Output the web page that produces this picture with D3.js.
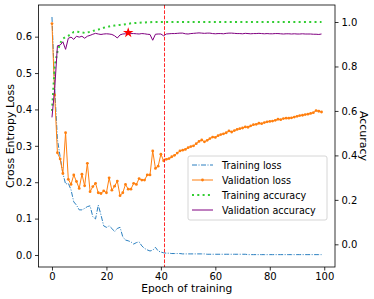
<!DOCTYPE html>
<meta charset="utf-8">
<style>
body{margin:0;background:#fff;}
text{font-family:"DejaVu Sans",sans-serif;fill:#000;}
.axis path{display:none;}
.axis line{stroke:#000;stroke-width:0.8px;}
.axis text{font-size:10px;}
</style>
<body>
<script src="https://d3js.org/d3.v7.min.js"></script>
<script>

var trainLoss=[0.654,0.46,0.318,0.27,0.224,0.195,0.197,0.179,0.146,0.137,
0.124,0.124,0.128,0.133,0.135,0.105,0.099,0.137,0.110,0.080,
0.076,0.080,0.073,0.064,0.073,0.076,0.050,0.041,0.039,0.036,
0.030,0.034,0.036,0.025,0.018,0.014,0.011,0.013,0.021,0.011,
0.008,0.006,0.005,0.005,0.004,0.004,0.004,0.004,0.003,0.003,
0.003,0.003,0.003,0.003,0.003,0.003,0.003,0.002,0.002,0.002,
0.002,0.002,0.002,0.002,0.002,0.002,0.002,0.002,0.002,0.002,
0.002,0.002,0.001,0.001,0.001,0.001,0.001,0.001,0.001,0.001,
0.001,0.001,0.001,0.001,0.001,0.001,0.001,0.001,0.001,0.001,
0.001,0.001,0.001,0.001,0.001,0.001,0.001,0.001,0.001,0.001];

var valLoss=[0.636,0.44,0.281,0.264,0.224,0.336,0.208,0.194,0.22,0.202,
0.183,0.222,0.19,0.252,0.174,0.188,0.197,0.171,0.169,0.176,
0.171,0.212,0.178,0.189,0.203,0.163,0.171,0.194,0.181,0.181,
0.197,0.194,0.21,0.206,0.206,0.22,0.22,0.286,0.238,0.244,
0.277,0.259,0.263,0.265,0.27,0.274,0.28,0.286,0.288,0.29,
0.295,0.298,0.300,0.306,0.312,0.316,0.311,0.315,0.320,0.324,
0.323,0.328,0.331,0.333,0.336,0.341,0.338,0.342,0.345,0.347,
0.349,0.352,0.351,0.355,0.358,0.359,0.362,0.361,0.364,0.366,
0.367,0.368,0.370,0.373,0.372,0.375,0.376,0.376,0.377,0.379,
0.381,0.383,0.384,0.386,0.387,0.389,0.391,0.397,0.395,0.393];

var trainAcc=[0.60,0.80,0.866,0.904,0.925,0.932,0.938,0.946,0.955,0.956,
0.955,0.953,0.951,0.953,0.956,0.960,0.963,0.966,0.969,0.974,
0.978,0.980,0.982,0.984,0.986,0.987,0.988,0.990,0.992,0.994,
0.995,0.996,0.997,0.998,0.998,0.999,0.999,1.0,1.0,1.0,
1.0,1.0,1.0,1.0,1.0,1.0,1.0,1.0,1.0,1.0,
1.0,1.0,1.0,1.0,1.0,1.0,1.0,1.0,1.0,1.0,
1.0,1.0,1.0,1.0,1.0,1.0,1.0,1.0,1.0,1.0,
1.0,1.0,1.0,1.0,1.0,1.0,1.0,1.0,1.0,1.0,
1.0,1.0,1.0,1.0,1.0,1.0,1.0,1.0,1.0,1.0,
1.0,1.0,1.0,1.0,1.0,1.0,1.0,1.0,1.0,1.0];

var valAcc=[0.571,0.70,0.893,0.896,0.911,0.877,0.927,0.932,0.922,0.936,
0.932,0.936,0.927,0.936,0.940,0.945,0.949,0.946,0.944,0.946,
0.947,0.946,0.944,0.938,0.928,0.942,0.946,0.947,0.952,0.948,
0.948,0.947,0.946,0.948,0.947,0.945,0.944,0.918,0.945,0.946,
0.946,0.938,0.946,0.947,0.948,0.948,0.949,0.950,0.950,0.947,
0.946,0.948,0.949,0.950,0.951,0.950,0.949,0.950,0.950,0.948,
0.947,0.948,0.948,0.947,0.949,0.950,0.950,0.949,0.948,0.948,
0.947,0.949,0.948,0.947,0.948,0.948,0.949,0.948,0.947,0.948,
0.947,0.947,0.948,0.948,0.947,0.946,0.947,0.947,0.946,0.947,
0.946,0.946,0.947,0.946,0.946,0.946,0.945,0.945,0.944,0.946];

var stopEpoch=41;
var lossTicks=[0,0.1,0.2,0.3,0.4,0.5,0.6];
var accTicks=[0,0.2,0.4,0.6,0.8,1.0];
var epochTicks=[0,20,40,60,80,100];
var names=["Training loss","Validation loss","Training accuracy","Validation accuracy"];

var W=374,H=299;
var L=38.5,R=335,T=5,B=267;

var svg=d3.select("body").append("svg").attr("width",W).attr("height",H);

var x=d3.scaleLinear().domain([-4.95,103.95]).range([L,R]);
var yL=d3.scaleLinear().domain([-0.033,0.687]).range([B,T]);
var yR=d3.scaleLinear().domain([-0.102,1.0765]).range([B,T]);

var epochs=d3.range(trainLoss.length);

svg.append("g").attr("class","axis").attr("transform","translate(0,"+B+")")
  .call(d3.axisBottom(x).tickValues(epochTicks).tickSize(3.5).tickPadding(2).tickFormat(d3.format("d")));
svg.append("g").attr("class","axis").attr("transform","translate("+L+",0)")
  .call(d3.axisLeft(yL).tickValues(lossTicks).tickSize(3.5).tickPadding(3).tickFormat(d3.format(".1f")));
svg.append("g").attr("class","axis").attr("transform","translate("+R+",0)")
  .call(d3.axisRight(yR).tickValues(accTicks).tickSize(3.5).tickPadding(3).tickFormat(d3.format(".1f")));

var plot=svg.append("g");

var lineL=function(arr){return d3.line().x(function(d){return x(d);}).y(function(d){return yL(arr[d]);});};
var lineR=function(arr){return d3.line().x(function(d){return x(d);}).y(function(d){return yR(arr[d]);});};

plot.append("path").datum(epochs).attr("d",lineL(trainLoss))
  .attr("fill","none").attr("stroke","#2a7fc0").attr("stroke-width",1).attr("stroke-dasharray","5,1.5,1,1.5");

plot.append("path").datum(epochs).attr("d",lineL(valLoss))
  .attr("fill","none").attr("stroke","#ff7f0e").attr("stroke-width",1);
plot.selectAll(".vdot").data(epochs).enter().append("circle").attr("class","vdot")
  .attr("cx",function(d){return x(d);}).attr("cy",function(d){return yL(valLoss[d]);})
  .attr("r",1.4).attr("fill","#ff7f0e");

plot.append("line").attr("x1",Math.round(x(stopEpoch))+0.5).attr("x2",Math.round(x(stopEpoch))+0.5).attr("y1",T).attr("y2",B)
  .attr("stroke","#ff2a2a").attr("stroke-width",1).attr("stroke-dasharray","3.7,1.6");

plot.append("path").datum(epochs).attr("d",lineR(trainAcc))
  .attr("fill","none").attr("stroke","limegreen").attr("stroke-width",2).attr("stroke-dasharray","2,3.3");

plot.append("path").datum(epochs).attr("d",lineR(valAcc))
  .attr("fill","none").attr("stroke","purple").attr("stroke-width",1);

var best=d3.maxIndex(valAcc);
plot.append("path").attr("d",d3.symbol().type(d3.symbolStar).size(34)())
  .attr("transform","translate("+x(best)+","+yR(valAcc[best])+")").attr("fill","red");

// frame
svg.append("rect").attr("x",L).attr("y",T).attr("width",R-L).attr("height",B-T)
  .attr("fill","none").attr("stroke","#000").attr("stroke-width",0.8);

// labels
svg.append("text").attr("x",(L+R)/2).attr("y",292).attr("text-anchor","middle")
  .style("font-size","10.7px").text("Epoch of training");
svg.append("text").attr("transform","translate(14,"+((T+B)/2)+") rotate(-90)").attr("text-anchor","middle")
  .style("font-size","11px").text("Cross Entropy Loss");
svg.append("text").attr("transform","translate(359.5,"+((T+B)/2)+") rotate(90)").attr("text-anchor","middle")
  .style("font-size","11px").text("Accuracy");

// legend
var lg=svg.append("g").attr("transform","translate(188,156)");
lg.append("rect").attr("width",139).attr("height",64).attr("rx",2)
  .attr("fill","#fff").attr("fill-opacity",0.8).attr("stroke","#ccc").attr("stroke-width",0.8);
var styles=[
  {c:"#2a7fc0",w:1,d:"5,1.5,1,1.5",m:false},
  {c:"#ff7f0e",w:1,d:null,m:true},
  {c:"limegreen",w:2,d:"2,3.3",m:false},
  {c:"purple",w:1,d:null,m:false}];
names.forEach(function(n,i){
  var yy=9+i*15;
  var s=styles[i];
  lg.append("line").attr("x1",4).attr("x2",25).attr("y1",yy).attr("y2",yy)
    .attr("stroke",s.c).attr("stroke-width",s.w).attr("stroke-dasharray",s.d);
  if(s.m) lg.append("circle").attr("cx",14.5).attr("cy",yy).attr("r",1.4).attr("fill",s.c);
  lg.append("text").attr("x",34).attr("y",yy+3.5).style("font-size","9.6px").text(n);
});
</script>
</body>
